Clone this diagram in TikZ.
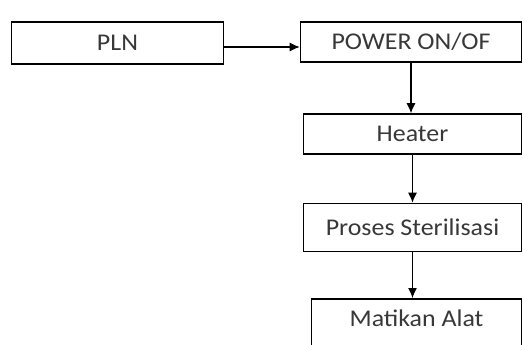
\documentclass[tikz,border=0pt]{standalone}
\usepackage{fontspec}
\setmainfont{Carlito}[FakeStretch=1.08]
\usetikzlibrary{arrows.meta,positioning}

\begin{document}
\begin{tikzpicture}[x=1pt,y=-1pt,>={Latex[length=10pt,width=9pt]},
  blok/.style={draw,line width=1.6pt,minimum width=#1,inner sep=0pt,font=\fontsize{24}{26}\selectfont,text=black!78},
  panah/.style={->,line width=1.1pt}]
\useasboundingbox (0,0) rectangle (523,345);

% ===== boxes =====
\node[blok=212pt,minimum height=42pt] (pln) at (117.5,43) {PLN};
\node[blok=221pt,minimum height=40pt] (power) at (411,42) {POWER ON/OF};
\node[blok=218pt,minimum height=40pt] (heater) at (412.5,134) {Heater};
\node[blok=218pt,minimum height=48pt] (proses) at (412.5,227.5) {Proses Sterilisasi};
\node[blok=210pt,minimum height=54pt,text depth=0pt,anchor=north] (matikan) at (416.5,298) {\raisebox{16pt}{Matikan Alat}};

% ===== arrows =====
\draw[panah] ([yshift=-4pt]pln.east) -- ([yshift=-4pt]pln.east-|power.west);
\foreach \a/\b in {power/heater,heater/proses,proses/matikan}{\draw[panah] (\a.south) -- (\a.south|-\b.north);}
\end{tikzpicture}
\end{document}
